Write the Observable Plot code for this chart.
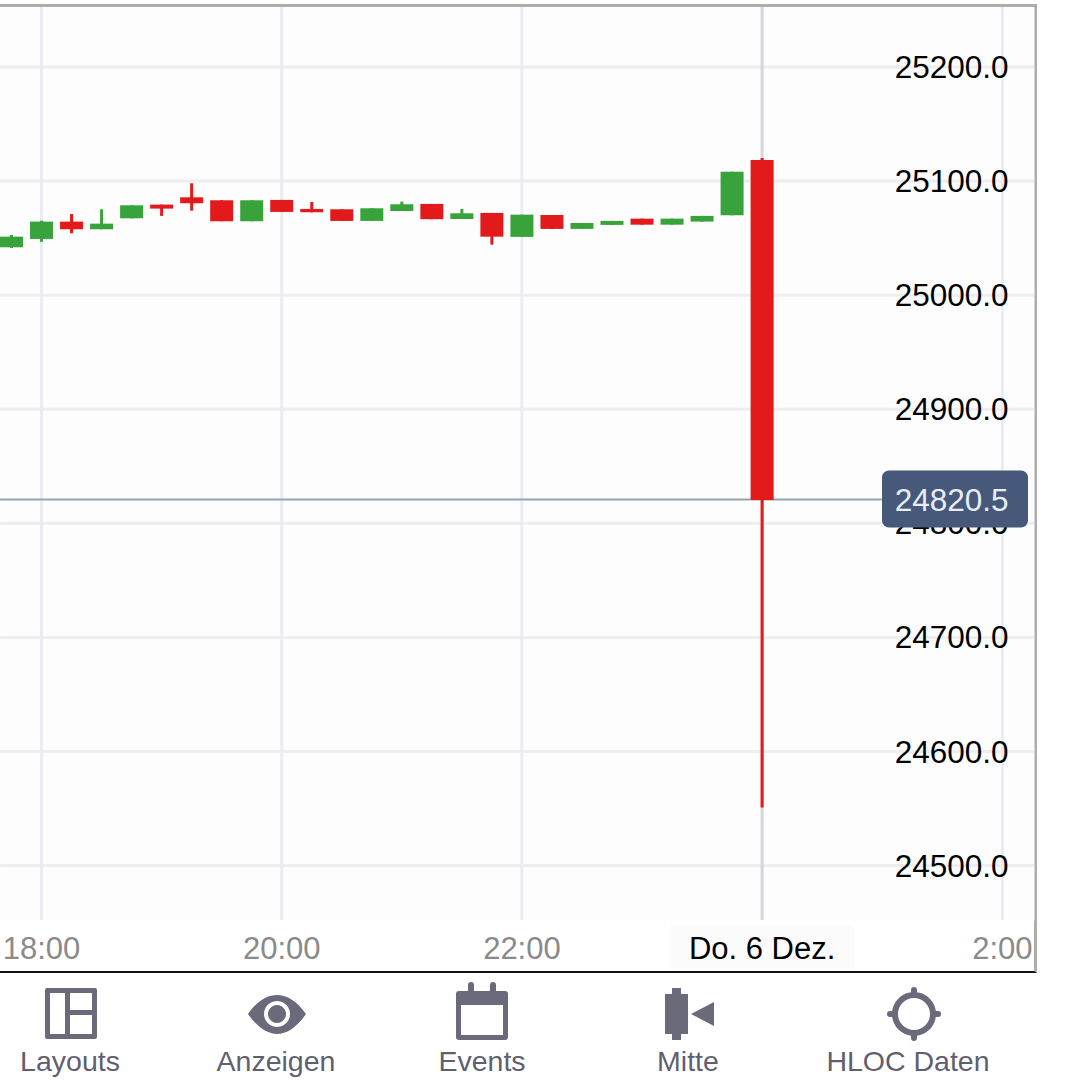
<!DOCTYPE html>
<html>
<head>
<meta charset="utf-8">
<script src="https://cdn.jsdelivr.net/npm/d3@7"></script>
<script src="https://cdn.jsdelivr.net/npm/@observablehq/plot@0.6"></script>
<style>
html,body{margin:0;padding:0;background:#fff;width:1080px;height:1080px;overflow:hidden;font-family:"Liberation Sans",sans-serif}
#frame{position:absolute;left:0;top:4px;width:1034px;height:964px;border-top:3px solid #adadaa;border-right:3px solid #adadaa;border-bottom:2px solid #111}
#frame svg{display:block}
#bar{position:absolute;left:0;top:972px;width:1080px;height:108px}
#bar svg{position:absolute;left:0;top:0}
.tool{position:absolute;top:72px;transform:translateX(-50%);font-size:28.5px;line-height:34px;color:#5f5f70;white-space:nowrap}
</style>
</head>
<body>
<div id="frame"></div>
<div id="bar">
<svg width="1080" height="108" fill="#6a6a7a">
  <path fill-rule="evenodd" d="M47 16h48a2 2 0 0 1 2 2v47a2 2 0 0 1-2 2H47a2 2 0 0 1-2-2V18a2 2 0 0 1 2-2zM50 21v41h15V21zM70 21v17h22V21zM70 43v19h22V43z"/>
  <path fill-rule="evenodd" d="M248 42c9-13 19-19 29-19s20 6 29 19c-9 13-19 20-29 20s-20-7-29-20zM277 29a13 13 0 1 0 .01 0zM277 33a9 9 0 1 1-.01 0z"/>
  <path fill-rule="evenodd" d="M459 19h9v-6a3 3 0 0 1 6 0v6h16v-6a3 3 0 0 1 6 0v6h9a3 3 0 0 1 3 3v43a3 3 0 0 1-3 3h-46a3 3 0 0 1-3-3V22a3 3 0 0 1 3-3zM461 33v30h42V33z"/>
  <path d="M672 22V16h9v6h7v40h-7v6h-9v-6h-7V22z"/>
  <path d="M691 42l23-12v24z"/>
  <circle cx="914" cy="42" r="19" fill="none" stroke="#6a6a7a" stroke-width="6"/>
  <path d="M914 18v5M914 61v5M890 42h5M933 42h5" stroke="#6a6a7a" stroke-width="6" stroke-linecap="round"/>
</svg>
<div class="tool" style="left:70px">Layouts</div>
<div class="tool" style="left:276px">Anzeigen</div>
<div class="tool" style="left:482px">Events</div>
<div class="tool" style="left:688px">Mitte</div>
<div class="tool" style="left:908px">HLOC Daten</div>
</div>
<script>
const t = (d, h, m) => new Date(Date.UTC(2018, 11, d, h, m));

const candleTimes = [
  t(5,17,45), t(5,18,0), t(5,18,15), t(5,18,30), t(5,18,45), t(5,19,0), t(5,19,15), t(5,19,30),
  t(5,19,45), t(5,20,0), t(5,20,15), t(5,20,30), t(5,20,45), t(5,21,0), t(5,21,15), t(5,21,30),
  t(5,21,45), t(5,22,0), t(5,22,15), t(5,22,30), t(5,22,45), t(5,23,0), t(5,23,15), t(5,23,30),
  t(5,23,45), t(6,0,0)
];
const opens  = [25042.0,25049.3,25064.5,25057.8,25067.4,25079.4,25085.8,25083.2,25064.8,25083.5,25075.6,25075.3,25065.1,25073.8,25080.0,25066.8,25072.1,25051.1,25070.3,25058.1,25061.6,25067.1,25061.8,25064.5,25070.1,25118.5];
const closes = [25051.3,25064.5,25057.8,25062.7,25078.8,25075.9,25080.6,25064.8,25083.2,25073.0,25072.7,25065.1,25076.2,25079.7,25066.6,25071.8,25051.3,25070.6,25058.1,25063.3,25065.1,25061.8,25067.1,25069.5,25108.3,24820.5];
const highs  = [25052.8,25065.3,25071.2,25075.3,25078.8,25079.4,25098.1,25083.2,25083.2,25083.5,25081.7,25075.3,25076.2,25082.0,25080.0,25075.6,25072.1,25070.6,25070.3,25063.3,25065.1,25067.1,25067.1,25069.5,25108.3,25120.3];
const lows   = [25041.4,25046.7,25054.3,25057.8,25067.4,25069.5,25074.1,25064.8,25064.8,25073.0,25072.7,25065.1,25065.1,25073.8,25066.6,25066.8,25044.3,25051.1,25058.1,25058.1,25061.6,25061.8,25061.8,25064.5,25070.1,24550.8];

const priceTicks = [25200,25100,25000,24900,24800,24700,24600,24500];
const hourTicks = [t(5,18,0), t(5,20,0), t(5,22,0), t(6,0,0), t(6,2,0)];
const hourLabels = ["18:00","20:00","22:00","Do. 6 Dez.","2:00"];
const lastPrice = 24820.5;

const candles = candleTimes.map((time, i) => ({time, open: opens[i], close: closes[i], high: highs[i], low: lows[i]}));
const labels = hourTicks.map((time, i) => ({time, label: hourLabels[i]}));
const up = d => d.close >= d.open;
const RED = "#e21a1c", GREEN = "#39a33b";
const colorOf = d => up(d) ? GREEN : RED;

const chart = Plot.plot({
  width: 1034,
  height: 964,
  marginTop: 0, marginRight: 0, marginBottom: 51, marginLeft: 0,
  style: {background: "#fff", fontFamily: "'Liberation Sans', sans-serif", overflow: "visible"},
  x: {type: "utc", domain: [new Date(Date.UTC(2018,11,5,17,39,30)), new Date(Date.UTC(2018,11,6,2,16,5))], range: [0,1034], axis: null},
  y: {domain: [24451.8, 25252.2], range: [913,0], axis: null},
  marks: [
    Plot.frame({fill: "#fdfdfe", stroke: "none"}),
    Plot.ruleY(priceTicks, {stroke: "#edeef2", strokeWidth: 3}),
    Plot.ruleX(hourTicks, {stroke: (d, i) => i === 3 ? "#d5d5de" : "#ebecf1", strokeWidth: 3}),
    Plot.ruleY([lastPrice], {x2: t(6,1,0), stroke: "#98a1b3", strokeWidth: 2, dy: -0.5}),
    Plot.ruleX(candles, {x: "time", y1: "low", y2: "high", stroke: colorOf, strokeWidth: 3, dy: 0.5}),
    Plot.ruleX(candles, {x: "time", y1: "open", y2: "close", stroke: colorOf, strokeWidth: 23, dy: 0.5}),
    Plot.text(priceTicks, {y: d => d, text: d => d3.format(".1f")(d), frameAnchor: "right", dx: -26, dy: 1, textAnchor: "end", fontSize: 31.5, fill: "#000"}),
    (index, {x, y}) => {
      const g = d3.create("svg:g");
      g.append("rect").attr("x", x(hourTicks[3]) - 92).attr("y", 918).attr("width", 185).attr("height", 44).attr("fill", "#fbfbfb");
      g.append("rect").attr("x", 882).attr("y", y(lastPrice) - 29).attr("width", 146).attr("height", 57).attr("rx", 7).attr("fill", "#46597a");
      return g.node();
    },
    Plot.text([lastPrice], {y: d => d, text: d => d3.format(".1f")(d), frameAnchor: "right", dx: -26, dy: 1, textAnchor: "end", fontSize: 31.5, fill: "#e8edf5"}),
    Plot.text(labels, {x: "time", text: "label", frameAnchor: "bottom", dy: 29, lineAnchor: "middle", fontSize: 31,
      fill: d => d.label.startsWith("Do") ? "#000" : "#8a8a8a"})
  ]
});
document.getElementById("frame").appendChild(chart);
</script>
</body>
</html>
